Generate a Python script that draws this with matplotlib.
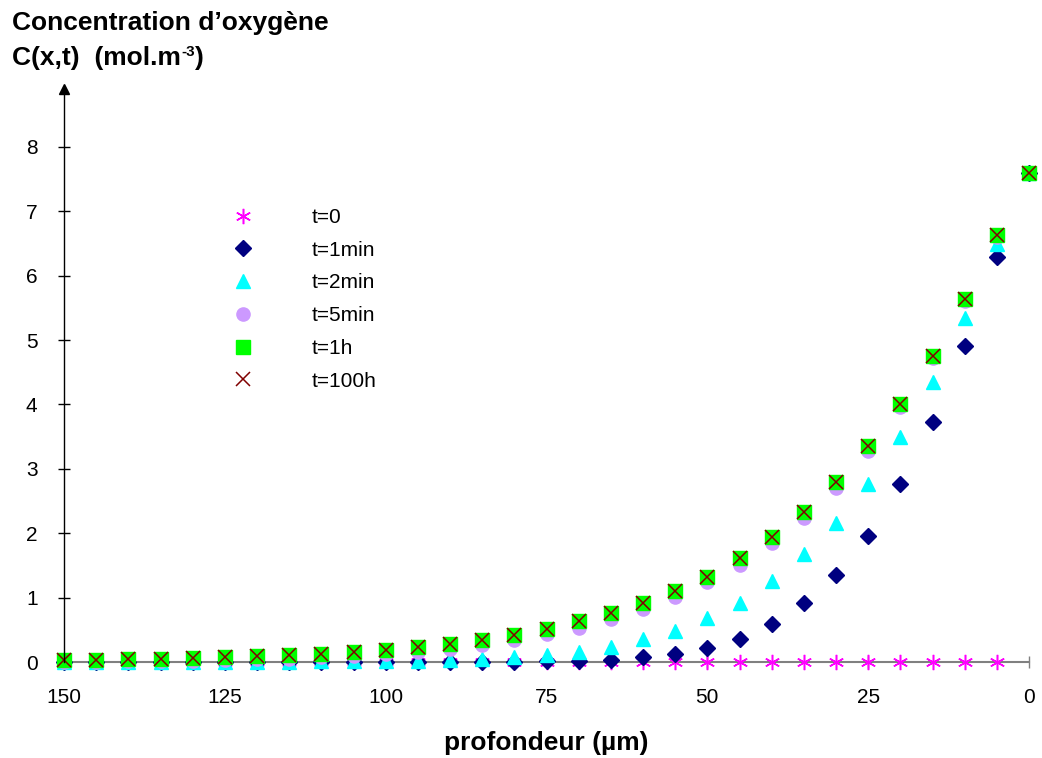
import matplotlib.pyplot as plt
import numpy as np

plt.rcParams['font.family'] = ['Liberation Sans', 'DejaVu Sans']

# depth (µm)
depth = [0, 5, 10, 15, 20, 25, 30, 35, 40, 45, 50, 55, 60, 65, 70, 75,
         80, 85, 90, 95, 100, 105, 110, 115, 120, 125, 130, 135, 140, 145, 150]

# concentration (mol.m-3)
c_t0 = [7.6] + [0.0] * 30
c_1min = [7.6, 6.29, 4.91, 3.73, 2.76, 1.96, 1.35, 0.91, 0.59, 0.36, 0.22,
          0.12, 0.07, 0.03, 0.02, 0.01, 0.0, 0.0, 0.0, 0.0, 0.0,
          0.0, 0.0, 0.0, 0.0, 0.0, 0.0, 0.0, 0.0, 0.0, 0.0]
c_2min = [7.6, 6.5, 5.34, 4.35, 3.49, 2.76, 2.16, 1.67, 1.26, 0.92, 0.68,
          0.48, 0.35, 0.24, 0.16, 0.11, 0.08, 0.05, 0.03, 0.02, 0.02,
          0.01, 0.01, 0.0, 0.0, 0.0, 0.0, 0.0, 0.0, 0.0, 0.0]
c_5min = [7.6, 6.6, 5.6, 4.72, 3.96, 3.28, 2.71, 2.24, 1.85, 1.51, 1.24,
          1.01, 0.82, 0.67, 0.53, 0.44, 0.34, 0.26, 0.20, 0.16, 0.12,
          0.09, 0.07, 0.05, 0.04, 0.03, 0.02, 0.01, 0.01, 0.0, 0.0]
c_1h = [7.6, 6.63, 5.64, 4.75, 4.01, 3.35, 2.80, 2.33, 1.94, 1.61, 1.32,
        1.11, 0.91, 0.76, 0.63, 0.52, 0.42, 0.34, 0.28, 0.23, 0.19,
        0.15, 0.13, 0.11, 0.09, 0.08, 0.06, 0.05, 0.04, 0.03, 0.03]
c_100h = c_1h

labels = ['t=0', 't=1min', 't=2min', 't=5min', 't=1h', 't=100h']

W, H = 1042, 758
fig = plt.figure(figsize=(W / 100, H / 100), dpi=100)
ax = fig.add_axes([64 / W, 1 - 662 / H, (1029 - 64) / W, (662 - 89) / H])

kw = dict(ls='none', clip_on=False)
ax.plot(depth, c_t0, marker=(6, 2, 0), ms=11, mew=1.1, color='#FF00FF',
        label=labels[0], **kw)
ax.plot(depth, c_1min, marker='D', ms=8, color='#000080', label=labels[1], **kw)
ax.plot(depth, c_2min, marker='^', ms=10, color='#00FFFF', label=labels[2], **kw)
ax.plot(depth, c_5min, marker='o', ms=9.5, color='#CC99FF', label=labels[3], **kw)
ax.plot(depth, c_1h, marker='s', ms=10, color='#00FF00', label=labels[4], **kw)
ax.plot(depth, c_100h, marker='x', ms=10, mew=1.1, color='#800000',
        label=labels[5], **kw)

# axes
ax.set_xlim(150, 0)
ax.set_ylim(0, 8.9)
ax.spines['top'].set_visible(False)
ax.spines['right'].set_visible(False)
ax.spines['bottom'].set_color('#808080')
ax.spines['bottom'].set_linewidth(1.5)
ax.spines['bottom'].set_zorder(0.5)
ax.spines['left'].set_color('black')
ax.spines['left'].set_linewidth(1)
ax.plot(0, 1, marker='^', color='black', ms=7, transform=ax.transAxes,
        clip_on=False)

ax.set_xticks([150, 125, 100, 75, 50, 25, 0])
ax.set_yticks(range(0, 9))
ax.tick_params(axis='both', direction='inout', length=8, width=1,
               labelsize=15)
ax.tick_params(axis='y', pad=15)
ax.tick_params(axis='x', pad=15, color='#808080')

ax.set_xlabel('profondeur (µm)', fontsize=19, fontweight='bold', labelpad=17)

# y-axis title (two lines, with superscript)
fig.text(12 / W, 1 - 30 / H, 'Concentration d’oxygène', fontsize=19,
         fontweight='bold', va='baseline', ha='left')
base2 = 1 - 65 / H
t1 = fig.text(12 / W, base2, 'C(x,t)  (mol.m', fontsize=19,
              fontweight='bold', va='baseline', ha='left')
sup = ax.annotate('-3', xy=(1, base2 + 9 / H), xycoords=(t1, 'figure fraction'),
                  xytext=(0, 0), textcoords='offset points',
                  fontsize=11, fontweight='bold', va='baseline', ha='left')
ax.annotate(')', xy=(1, base2), xycoords=(sup, 'figure fraction'),
            xytext=(0.5, 0), textcoords='offset points',
            fontsize=19, fontweight='bold', va='baseline', ha='left')

ax.legend(loc='upper left', bbox_to_anchor=(222 / W, 1 - 208 / H),
          bbox_transform=fig.transFigure, frameon=False, fontsize=15,
          numpoints=1, handlelength=2, handletextpad=2.3, borderpad=0,
          borderaxespad=0, labelspacing=0.66)

fig.savefig('out.png', dpi=100)
